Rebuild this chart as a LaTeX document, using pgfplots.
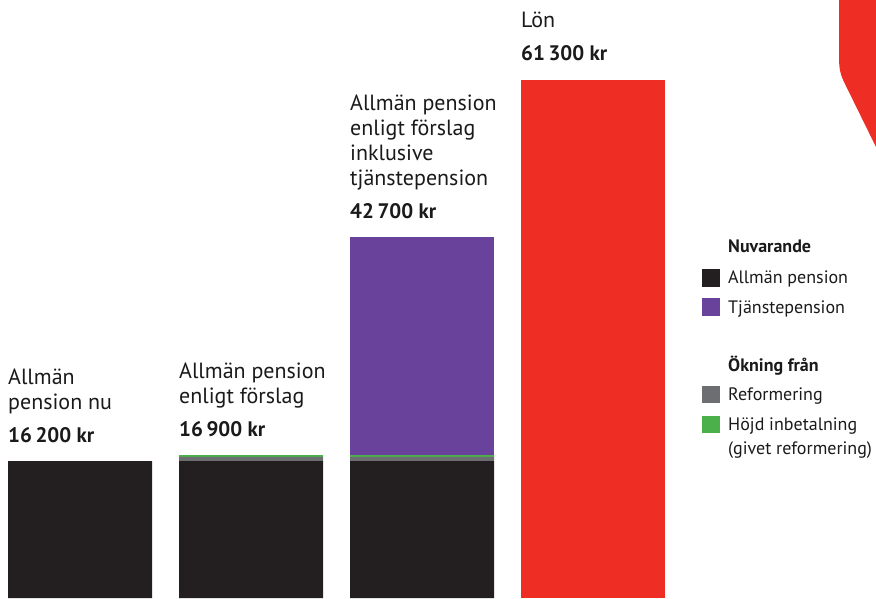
\documentclass[border=0pt]{standalone}
\usepackage{pgfplots}
\pgfplotsset{compat=1.18}
\usepackage{fontspec}
\setmainfont{PT Sans}
\definecolor{cblack}{HTML}{231F20}
\definecolor{cgray}{HTML}{6D6E72}
\definecolor{cgreen}{HTML}{4BB04A}
\definecolor{cpurple}{HTML}{68429B}
\definecolor{cred}{HTML}{EE2E24}
\definecolor{ctext}{HTML}{1A1A1A}
\tikzset{
  lbl/.style={anchor=base west, text=ctext, font=\fontsize{22}{25}\selectfont, inner sep=0pt},
  num/.style={anchor=base west, text=ctext, font=\fontsize{21}{25}\selectfont\bfseries, inner sep=0pt}}
\begin{document}
\begin{tikzpicture}[x=1pt,y=1pt]
\useasboundingbox (0,0) rectangle (876,598);
\fill[cred] (839,598) -- (839,540) .. controls (839,528) and (841,522) .. (845,514) -- (876,451) -- (876,598) -- cycle;
\begin{axis}[scale only axis, width=876pt, height=598pt,
  xmin=-0.46784, xmax=4.65497, ymin=0, ymax=70767,
  hide axis, clip=false, ybar stacked, bar width=144pt]
\addplot[fill=cblack, draw=none] coordinates {(0,16200) (1,16200) (2,16200) (3,0)};
\addplot[fill=cgray, draw=none] coordinates {(0,0) (1,500) (2,500) (3,0)};
\addplot[fill=cgreen, draw=none] coordinates {(0,0) (1,200) (2,200) (3,0)};
\addplot[fill=cpurple, draw=none] coordinates {(0,0) (1,0) (2,25800) (3,0)};
\addplot[fill=cred, draw=none] coordinates {(0,0) (1,0) (2,0) (3,61300)};
% bar 1
\node[num, xshift=-72pt, yshift=19pt] at (axis cs:0,16200) {16\,200 kr};
\node[lbl, xshift=-72pt, yshift=52pt] at (axis cs:0,16200) {pension nu};
\node[lbl, xshift=-72pt, yshift=77pt] at (axis cs:0,16200) {Allmän};
% bar 2
\node[num, xshift=-72pt, yshift=19pt] at (axis cs:1,16900) {16\,900 kr};
\node[lbl, xshift=-72pt, yshift=52pt] at (axis cs:1,16900) {enligt förslag};
\node[lbl, xshift=-72pt, yshift=77pt] at (axis cs:1,16900) {Allmän pension};
% bar 3
\node[num, xshift=-72pt, yshift=19pt] at (axis cs:2,42700) {42\,700 kr};
\node[lbl, xshift=-72pt, yshift=52pt] at (axis cs:2,42700) {tjänstepension};
\node[lbl, xshift=-72pt, yshift=77pt] at (axis cs:2,42700) {inklusive};
\node[lbl, xshift=-72pt, yshift=102pt] at (axis cs:2,42700) {enligt förslag};
\node[lbl, xshift=-72pt, yshift=127pt] at (axis cs:2,42700) {Allmän pension};
% bar 4
\node[num, xshift=-72pt, yshift=19pt] at (axis cs:3,61300) {61\,300 kr};
\node[lbl, xshift=-72pt, yshift=52pt] at (axis cs:3,61300) {Lön};
\end{axis}
% legend
\begin{scope}[every node/.style={anchor=base west, text=ctext, inner sep=0pt, font=\fontsize{18}{22}\selectfont}]
\node[font=\fontsize{18}{22}\selectfont\bfseries] at (728,345) {Nuvarande};
\fill[cblack] (702,311) rectangle (720,329);
\node at (728,314) {Allmän pension};
\fill[cpurple] (702,282.3) rectangle (720,299.7);
\node at (728,284.7) {Tjänstepension};
\node[font=\fontsize{18}{22}\selectfont\bfseries] at (728,226.3) {Ökning från};
\fill[cgray] (702,194.7) rectangle (720,212);
\node at (728,197.3) {Reformering};
\fill[cgreen] (702,164.7) rectangle (720,182.3);
\node at (728,168) {Höjd inbetalning};
\node at (728,144) {(givet reformering)};
\end{scope}
\end{tikzpicture}
\end{document}
